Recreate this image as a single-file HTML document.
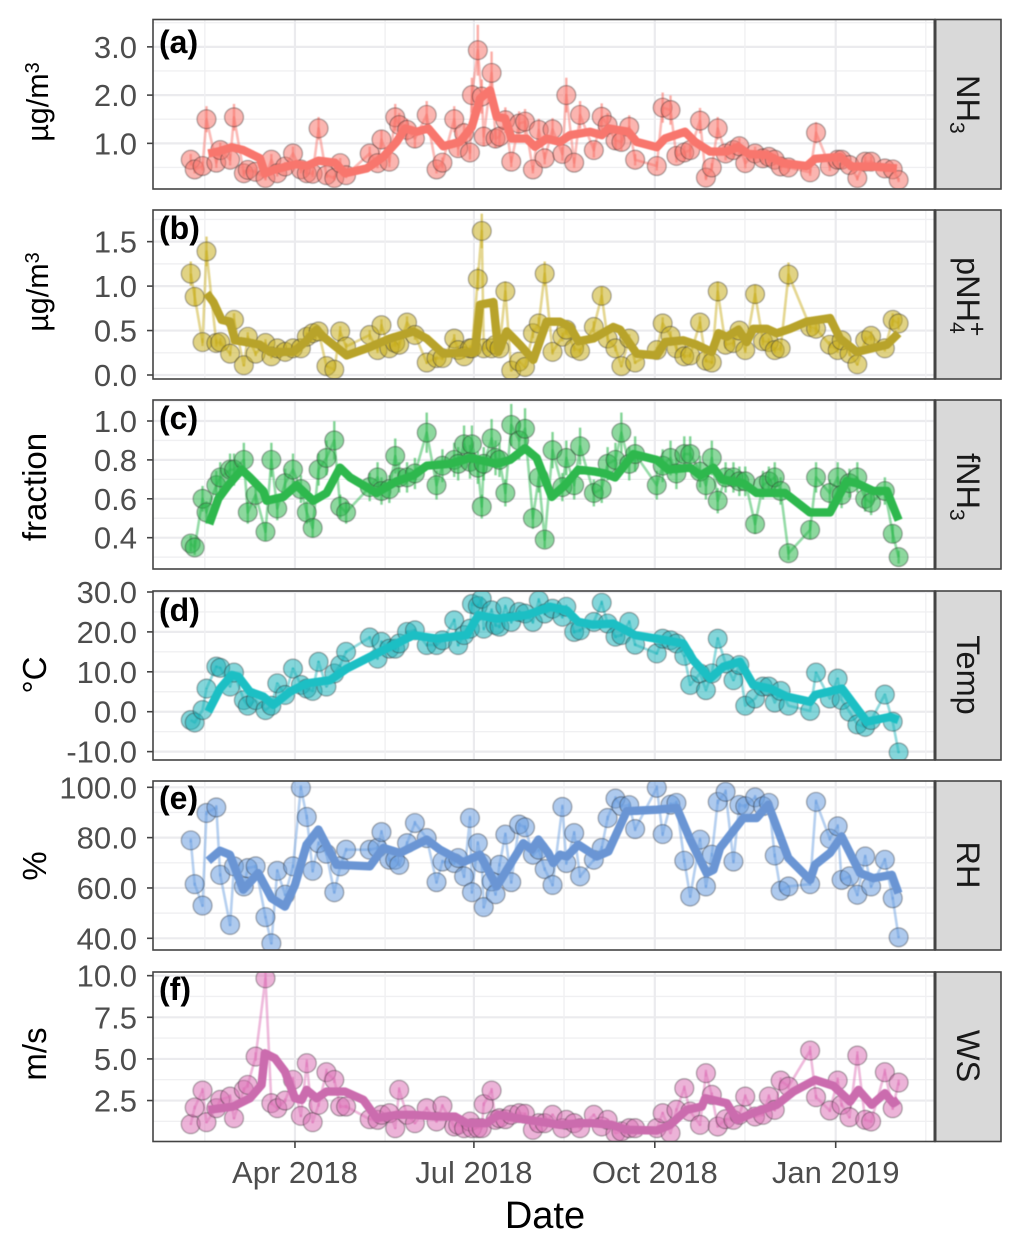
<!DOCTYPE html>
<html lang="en">
<head>
<meta charset="utf-8">
<title>Time series panels</title>
<style>
html,body{margin:0;padding:0;background:#fff;}
svg{display:block;}
text{font-family:"Liberation Sans",Arial,sans-serif;}
.tick-label{font-size:31px;fill:#4d4d4d;}
.axis-title{font-size:33px;fill:#000;}
.strip-text{font-size:32.5px;fill:#1a1a1a;}
.panel-tag{font-size:32px;font-weight:bold;fill:#000;}
.frame{fill:none;stroke:#444;stroke-width:1.6;}
.strip{fill:#d9d9d9;stroke:#444;stroke-width:1.6;}
</style>
</head>
<body>
<svg id="chart" xmlns="http://www.w3.org/2000/svg" width="1022" height="1248" viewBox="0 0 1022 1248">
  <defs>
    <filter id="soft" x="-5%" y="-5%" width="110%" height="110%"><feGaussianBlur stdDeviation="0.4"/></filter>
  </defs>
  <rect width="1022" height="1248" fill="#fff"/>
  <g id="panels"></g>

  <g>
    <text class="axis-title" transform="translate(48,102) rotate(-90)" text-anchor="middle" style="font-size:30.5px">µg/m<tspan dy="-9" font-size="20">3</tspan></text>
    <text class="axis-title" transform="translate(48,292) rotate(-90)" text-anchor="middle" style="font-size:30.5px">µg/m<tspan dy="-9" font-size="20">3</tspan></text>
    <text class="axis-title" transform="translate(46,487) rotate(-90)" text-anchor="middle">fraction</text>
    <text class="axis-title" transform="translate(46,675) rotate(-90)" text-anchor="middle">°C</text>
    <text class="axis-title" transform="translate(46,866) rotate(-90)" text-anchor="middle">%</text>
    <text class="axis-title" transform="translate(46,1054) rotate(-90)" text-anchor="middle">m/s</text>
  </g>

  <g>
    <text class="panel-tag" x="159" y="53">(a)</text>
    <text class="panel-tag" x="159" y="239">(b)</text>
    <text class="panel-tag" x="159" y="429">(c)</text>
    <text class="panel-tag" x="159" y="621">(d)</text>
    <text class="panel-tag" x="159" y="809">(e)</text>
    <text class="panel-tag" x="159" y="1000">(f)</text>
  </g>

  <g>
    <rect class="strip" x="935" y="19.5" width="66" height="169.5"/>
    <rect class="strip" x="935" y="210" width="66" height="169"/>
    <rect class="strip" x="935" y="400" width="66" height="169"/>
    <rect class="strip" x="935" y="591" width="66" height="169"/>
    <rect class="strip" x="935" y="781" width="66" height="169"/>
    <rect class="strip" x="935" y="972" width="66" height="169.5"/>
    <line x1="935" x2="935" y1="19" y2="189.5" stroke="#444" stroke-width="3"/>
    <line x1="935" x2="935" y1="209.5" y2="379.5" stroke="#444" stroke-width="3"/>
    <line x1="935" x2="935" y1="399.5" y2="569.5" stroke="#444" stroke-width="3"/>
    <line x1="935" x2="935" y1="590.5" y2="760.5" stroke="#444" stroke-width="3"/>
    <line x1="935" x2="935" y1="780.5" y2="950.5" stroke="#444" stroke-width="3"/>
    <line x1="935" x2="935" y1="971.5" y2="1142" stroke="#444" stroke-width="3"/>
    <text class="strip-text" transform="translate(957,75) rotate(90)">NH<tspan dy="7" font-size="21">3</tspan></text>
    <text class="strip-text" transform="translate(957,257) rotate(90)">pNH<tspan dy="7" font-size="21">4</tspan><tspan dx="-12" dy="-19" font-size="25">+</tspan></text>
    <text class="strip-text" transform="translate(957,453) rotate(90)">fNH<tspan dy="7" font-size="21">3</tspan></text>
    <text class="strip-text" transform="translate(957,675) rotate(90)" text-anchor="middle">Temp</text>
    <text class="strip-text" transform="translate(957,865) rotate(90)" text-anchor="middle">RH</text>
    <text class="strip-text" transform="translate(957,1056) rotate(90)" text-anchor="middle">WS</text>
  </g>

  <text x="545" y="1228" text-anchor="middle" style="font-size:38px;fill:#000">Date</text>
</svg>

<script>
// Sampling days, counted from 2018-04-01
const dates = [-53,-51,-47,-45,-40,-38,-33,-31,-26,-24,-20,-15,-12,-9,-5,-1,3,6,9,12,16,20,23,26,38,42,44,48,51,53,57,61,67,72,75,81,83,86,89,90,93,95,96,100,102,104,107,110,114,117,121,124,127,
  131,136,138,142,145,152,156,159,163,166,170,173,184,187,191,194,198,201,206,209,212,215,219,223,226,229,234,238,241,244,247,251,262,265,272,276,278,282,286,290,293,300,304,307];

const nh3 = [.66,.46,.53,1.5,.6,.86,.66,1.54,.38,.45,.41,.28,.66,.38,.52,.79,.46,.38,.37,1.31,.34,.28,.59,.34,.79,.59,1.08,.62,1.54,1.38,1.28,1.1,1.59,.46,.6,1.5,.9,1.21,.81,2,2.93,1.97,1.14,2.46,1.1,1.14,1.48,.62,1.41,1.45,.46,1.28,.69,
  1.29,.78,2,.6,1.59,.86,1.55,1.38,1.06,1.03,1.34,.66,.53,1.74,1.69,.74,.81,.86,1.47,.29,.5,1.31,.79,.86,.94,.59,.79,.69,.72,.66,.52,.5,.4,1.22,.52,.66,.66,.55,.28,.62,.62,.48,.46,.24];
const pnh4 = [1.14,.88,.37,1.39,.36,.37,.24,.62,.11,.43,.24,.36,.21,.3,.26,.3,.3,.43,.47,.49,.1,.06,.49,.32,.45,.28,.56,.3,.36,.34,.59,.45,.14,.19,.19,.41,.28,.21,.3,.3,1.08,1.62,.3,.3,.34,.3,.94,.05,.15,.09,.47,.58,1.14,
  .26,.43,.51,.3,.27,.54,.89,.41,.3,.1,.41,.14,.28,.58,.44,.3,.21,.22,.59,.16,.14,.94,.34,.36,.5,.28,.91,.38,.37,.28,.3,1.13,.54,.52,.34,.28,.39,.24,.12,.39,.44,.3,.62,.58];
const fnh3 = [.37,.35,.6,.53,.67,.71,.75,.75,.8,.53,.62,.43,.8,.55,.68,.75,.65,.53,.45,.75,.81,.9,.56,.53,.66,.71,.64,.65,.82,.71,.71,.73,.94,.67,.77,.8,.78,.88,.79,.88,.76,.56,.78,.91,.81,.8,.63,.98,.9,.96,.5,.71,.39,
  .85,.66,.81,.67,.87,.63,.65,.78,.8,.94,.78,.83,.67,.77,.81,.73,.83,.83,.74,.67,.81,.59,.71,.71,.69,.69,.47,.67,.69,.71,.64,.32,.44,.71,.63,.71,.62,.68,.71,.6,.58,.64,.42,.3];
const temp = [-2.1,-2.7,.4,5.8,11.3,11,6.3,9.8,2.9,1.5,2.9,.4,1.5,7.1,4.2,10.8,6.7,5.8,5.2,12.5,6.3,9.6,11.7,15,18.6,13.3,17.5,15.8,15.8,17.1,20,20.4,16.7,16.7,17.9,22.9,16.7,19.2,20.8,27,26.5,28.3,20.8,25.4,21.7,21.3,26.3,22.5,25,24.6,22.5,27.9,24.6,
  25.8,23.8,26.3,20,20.4,22.5,27.3,22.1,18.8,19.2,22.5,16.8,14.6,18.3,17.9,17.1,14,6.7,9.6,5.4,9.6,18.3,12.1,7.9,11.7,1.5,3.3,6.3,6.3,2.3,5.2,1.5,.2,9.8,3.3,8.3,2.9,0,-3.2,-3.8,-2.1,4.3,-2.5,-10.2];
const rh = [78.9,61.5,53,89.8,92,65.2,45.3,68.6,60.6,67.9,68.6,48.4,38,66.8,57.3,68.6,99.8,88.2,66.8,77.8,73.6,58.3,68.6,75.2,75.2,75.9,82.2,71.2,71.2,69.2,77.8,85.8,79.8,62.3,70.5,69.9,71.9,64.6,87.8,58.3,77.8,69.9,52.4,62.6,57.5,69.2,81.2,62.3,85.2,84.1,73.2,75.2,67.5,
  61.2,92.2,69.9,81.8,64.6,71.2,75.9,87.8,95.5,92.5,92.9,83.4,99.8,81.4,93.1,93.8,70.8,56.6,79.2,60.6,73.2,94.2,98.2,70.5,93,92.5,96,92.5,93.8,72.9,58.9,60.6,61.5,94.2,79.6,84.5,63.2,64.6,57.3,72.5,60.6,71.2,55.9,40.4];
const ws = [1.08,2.08,3.1,1.2,2.04,2.54,2.74,1.44,3.14,3.44,5.14,9.84,2.34,2.04,2.5,3.74,1.58,4.74,1.2,2.24,4.2,3.74,2.14,2.14,1.38,1.34,1.64,1.74,.84,3.14,1.64,1.14,2.04,1.24,2.18,.94,1.04,.84,1.24,.84,.84,.84,2.28,3.1,1.34,1.44,1.38,1.64,1.74,1.7,.74,1.14,1.14,
  1.64,.84,1.34,1.14,.84,1.64,.94,1.34,.54,.64,.84,.84,.84,1.74,.54,1.94,3.24,1.84,1.04,4.14,2.84,.94,1.38,1.34,1.64,2.74,1.54,1.64,2.74,1.94,3.7,3.34,5.5,2.7,1.9,3.7,2.24,1.5,5.2,1.34,1.24,4.2,2.04,3.58];

// Running-mean trend lines (days from 2018-04-01, and values)
const nh3TrendDays = [-44.1,-39,-32.2,-26.3,-17.8,-15.3,-10.2,-4.2,.8,5.9,11.9,20.3,25.4,36.5,44.9,51.7,56,61.9,67.8,75.4,83.9,89.9,94.1,99.2,102.6,106.8,110.2,117.8,122.1,128,134.8,139.9,150.1,156,159.4,169.5,173.8,184,188.2,198.4,203.5,211.1,219.6,225.5,230.6,239.9,248.4,260.3,264.5,277.2,283.1,294.2,306.1];
const nh3Trend = [.79,.83,.92,.86,.69,.38,.46,.52,.57,.53,.64,.6,.38,.48,.72,1.03,1.31,1.24,1.31,.94,1.03,1.34,1.93,2.1,1.55,1.52,1.1,1.1,.93,1.1,1.03,1.17,1.24,1.17,1.31,1.24,1.03,.92,1.1,1.24,1.03,.83,.83,.93,.78,.76,.59,.53,.68,.72,.52,.52,.48];
const pnh4TrendDays = [-44.9,-41.5,-37.3,-33.1,-30.5,-24.6,-17.8,-12.7,-.8,5.1,11,14.4,19.5,26.3,36.5,48.3,60.2,67,75.4,91.6,94.1,100.9,103.4,107.7,114.4,121.2,128,134.8,139.9,144.1,151.7,161.9,165.3,173.8,184,188.2,197.5,204.3,212,215.4,219.6,225.5,229.7,233.1,239.9,245,251.8,260.3,272.1,277.2,285.7,301,306.9];
const pnh4Trend = [.92,.82,.62,.6,.39,.37,.34,.26,.26,.37,.51,.43,.34,.22,.3,.41,.49,.41,.24,.26,.79,.82,.26,.49,.34,.17,.6,.6,.54,.38,.41,.54,.51,.24,.22,.37,.39,.34,.26,.47,.43,.51,.37,.52,.52,.47,.52,.6,.64,.41,.26,.34,.47];
const fnh3TrendDays = [-43.6,-39,-33.9,-27.1,-22.9,-16.1,-14.4,-5.9,.8,9.3,16.1,22.9,28,41.5,51.7,60.2,67,78.8,89,102.6,109.4,117,122.9,130.6,137.3,144.1,152.6,157.7,162.8,172.1,184,189.9,201,206.1,212.8,217.1,228.1,234.8,249.2,261.9,272.1,280.6,285.7,294.2,301,307];
const fnh3Trend = [.47,.6,.67,.75,.71,.64,.59,.61,.67,.59,.63,.76,.71,.63,.69,.72,.77,.78,.81,.78,.8,.86,.81,.61,.67,.75,.74,.73,.71,.83,.8,.75,.76,.72,.76,.7,.68,.63,.63,.53,.53,.69,.68,.64,.64,.49];
const tempTrendDays = [-44.1,-38.1,-32.2,-28.8,-22.9,-16.1,-11,-2.5,5.9,17.8,26.3,41.5,53.4,60.2,72.1,87.3,93.3,102.6,117.8,129.7,138.2,144.1,151.7,161.9,172.9,184,197.5,202.6,211.1,217.9,226.3,233.1,241.6,250.1,262,264.5,278.2,290.8,302.7,306.9];
const tempTrend = [0,5.8,9.2,8.8,5,3.8,1.7,5,7.1,7.9,10.8,14.6,17.5,19.2,18.3,19.2,24.2,23.3,24.2,26.3,25.4,22.5,21.8,22.1,19.2,18.3,17.1,12.9,8.3,11.3,12.5,6.7,5.8,3.8,2.5,4.2,5.8,-2.5,-1.3,-2.1];
const rhTrendDays = [-44.1,-38.1,-33.1,-26.3,-18.7,-11.9,-5.1,0,5.9,11.9,21.2,38.1,44.9,53.4,67,73.8,85.6,94.1,102.6,116.1,120.4,123.8,128.9,131.4,134.8,138.2,144.1,153.4,159.4,168.7,184,194.2,201,209.4,212.8,216.2,228,234.8,240.7,250.9,262,264.5,272.1,278,287.4,294.2,303.5,306.9];
const rhTrend = [70.8,74.8,73.2,59.3,65.9,55.9,52.6,61.2,77.2,83.2,69.2,68.6,75.9,73.9,79.2,75.2,70.3,73.2,60.6,77.8,75.2,79.2,73.9,69.9,73.2,72.5,77.2,72.5,74.5,90.5,91.1,91.8,79.2,65.9,67.2,75.9,87.8,87.8,93.1,71.9,63.2,69.2,73.9,80.5,65.9,63.9,65.2,57.9];
const wsTrendDays = [-44.1,-31.4,-22.9,-17,-15.3,-10.2,-5.1,0,3.4,5.9,11,16.1,25.4,34.8,41.5,51.7,60.2,72.1,81.4,87.3,97.5,103.4,112.8,129.7,134.8,145,151.7,161.1,168.7,184,190.8,199.2,206.9,208.6,219.6,224.7,234.8,245,253.5,264.5,273.9,282.3,286.6,293.3,300,304.3,306.9];
const wsTrend = [1.94,2.14,2.64,3.44,5.34,5.04,4.24,2.64,2.54,3.14,2.64,3.04,3.04,2.54,1.44,1.64,1.64,1.54,1.54,1.14,1.14,1.64,1.44,1.14,1.04,1.14,1.14,1.04,.74,.7,1.04,1.94,2.14,2.64,2.34,1.34,1.84,2.24,3.04,3.74,3.38,2.44,3.14,2.24,2.94,2.34,2.54];

// Tick labels
const ticksA = ["1.0","2.0","3.0"];
const ticksB = ["0.0","0.5","1.0","1.5"];
const ticksC = ["0.4","0.6","0.8","1.0"];
const ticksD = ["-10.0","0.0","10.0","20.0","30.0"];
const ticksE = ["40.0","60.0","80.0","100.0"];
const ticksF = ["2.5","5.0","7.5","10.0"];
const xTickDays = [0,91,183,275];
const xTickLabels = ["Apr 2018","Jul 2018","Oct 2018","Jan 2019"];

const SVGNS = "http://www.w3.org/2000/svg";
const X_LEFT = 153, X_RIGHT = 935;
const xDomain = [-72.2, 325.5];
function xScale(d){ return X_LEFT + (d - xDomain[0]) / (xDomain[1] - xDomain[0]) * (X_RIGHT - X_LEFT); }
function linearY(vTop, vBottom, top, bottom){
  return function(v){ return top + (vTop - v) / (vTop - vBottom) * (bottom - top); };
}
function make(tag, attrs, parent){
  const el = document.createElementNS(SVGNS, tag);
  for (const k in attrs) el.setAttribute(k, attrs[k]);
  parent.appendChild(el);
  return el;
}
function pathFrom(xs, ys, yScale){
  return xs.map(function(d, i){ return (i ? "L" : "M") + xScale(d).toFixed(2) + " " + yScale(ys[i]).toFixed(2); }).join("");
}

function drawPanel(p){
  const root = document.getElementById("panels");
  const g = make("g", {}, root);
  
  
  const y = linearY(p.vTop, p.vBottom, p.top, p.bottom);
  const clipId = "clip-" + p.id;
  const clip = make("clipPath", {id: clipId}, g);
  make("rect", {x: X_LEFT, y: p.top, width: X_RIGHT - X_LEFT, height: p.bottom - p.top}, clip);

  // grid
  const grid = make("g", {}, g);
  
  
  const tickVals = p.ticks.map(Number);
  const step = tickVals[1] - tickVals[0];
  for (let v = tickVals[0] - step / 2; v <= p.vTop; v += step) {
    if (v < p.vBottom) continue;
    const minor = make("line", {x1: X_LEFT, x2: X_RIGHT, y1: y(v), y2: y(v), stroke: "#f0f0f2", "stroke-width": 1.4}, grid);
    
    
  }
  tickVals.forEach(function(v){
    const major = make("line", {x1: X_LEFT, x2: X_RIGHT, y1: y(v), y2: y(v), stroke: "#ebebee", "stroke-width": 2.2}, grid);
    
    
  });
  const xStep = (xTickDays[xTickDays.length - 1] - xTickDays[0]) / (xTickDays.length - 1);
  [xTickDays[0] - xStep / 2].concat(xTickDays.map(function(d){ return d + xStep / 2; })).forEach(function(d){
    const minor = make("line", {x1: xScale(d), x2: xScale(d), y1: p.top, y2: p.bottom, stroke: "#f0f0f2", "stroke-width": 1.4}, grid);
    
    
  });
  xTickDays.forEach(function(d){
    const major = make("line", {x1: xScale(d), x2: xScale(d), y1: p.top, y2: p.bottom, stroke: "#ebebee", "stroke-width": 2.2}, grid);
    
    
  });

  // marks
  const marks = make("g", {"clip-path": "url(#" + clipId + ")"}, g);
  
  
  const inner = make("g", {filter: "url(#soft)"}, marks);

  const thin = make("path", {d: pathFrom(dates, p.values, y), fill: "none", stroke: p.color, "stroke-width": 2.6, "stroke-opacity": 0.5, "stroke-linejoin": "round"}, inner);
  
  

  p.values.forEach(function(v, i){
    const cx = xScale(dates[i]);
    const bar = make("line", {x1: cx, x2: cx, y1: y(v * (1 + p.err)), y2: y(v * (1 - p.err)), stroke: p.color, "stroke-width": 2.4, "stroke-opacity": 0.6}, inner);
    
    
    const dot = make("circle", {cx: cx, cy: y(v), r: 9.4, fill: p.color, "fill-opacity": 0.55, stroke: "#333", "stroke-opacity": 0.5, "stroke-width": 1.1}, inner);
    
    
  });

  const thick = make("path", {d: pathFrom(p.trendDays, p.trend, y), fill: "none", stroke: p.trendColor, "stroke-width": 8.4, "stroke-linejoin": "round", "stroke-linecap": "butt"}, inner);
  
  

  // y axis
  p.ticks.forEach(function(lbl, i){
    const yy = y(tickVals[i]);
    const t = make("line", {x1: X_LEFT - 6, x2: X_LEFT, y1: yy, y2: yy, stroke: "#444", "stroke-width": 1.6}, g);
    
    
    const tx = make("text", {x: 137, y: yy + 11, "text-anchor": "end", class: "tick-label"}, g);
    
    
    tx.textContent = lbl;
  });

  const frame = make("rect", {x: X_LEFT, y: p.top, width: X_RIGHT - X_LEFT, height: p.bottom - p.top, class: "frame"}, g);
  
  
}

drawPanel({id:"a", values:nh3,  trendDays:nh3TrendDays,  trend:nh3Trend,  ticks:ticksA, top:19.5, bottom:189,  vTop:3.567, vBottom:0.054, err:0.18, color:"#F8766D", trendColor:"#F8766D"});
drawPanel({id:"b", values:pnh4, trendDays:pnh4TrendDays, trend:pnh4Trend, ticks:ticksB, top:210,  bottom:379,  vTop:1.856, vBottom:-0.045, err:0.12, color:"#C9AE1E", trendColor:"#B8A32A"});
drawPanel({id:"c", values:fnh3, trendDays:fnh3TrendDays, trend:fnh3Trend, ticks:ticksC, top:400,  bottom:569,  vTop:1.108, vBottom:0.239, err:0.11, color:"#2EB84E", trendColor:"#2EB84E"});
drawPanel({id:"d", values:temp, trendDays:tempTrendDays, trend:tempTrend, ticks:ticksD, top:591,  bottom:760,  vTop:30.25, vBottom:-12.1, err:0.02, color:"#1FB5BC", trendColor:"#1FBFC4"});
drawPanel({id:"e", values:rh,   trendDays:rhTrendDays,   trend:rhTrend,   ticks:ticksE, top:781,  bottom:950,  vTop:102.5, vBottom:35.35, err:0.01, color:"#6B9FE0", trendColor:"#6A95D4"});
drawPanel({id:"f", values:ws,   trendDays:wsTrendDays,   trend:wsTrend,   ticks:ticksF, top:972,  bottom:1141.5, vTop:10.22, vBottom:0.04, err:0.05, color:"#DD74B8", trendColor:"#CB6CAE"});

// x axis (bottom panel only)
const xAxis = make("g", {}, document.getElementById("panels"));


xTickDays.forEach(function(d, i){
  const t = make("line", {x1: xScale(d), x2: xScale(d), y1: 1141.5, y2: 1148, stroke: "#444", "stroke-width": 1.6}, xAxis);
  
  
  const tx = make("text", {x: xScale(d), y: 1183, "text-anchor": "middle", class: "tick-label"}, xAxis);
  
  
  tx.textContent = xTickLabels[i];
});
</script>
</body>
</html>
